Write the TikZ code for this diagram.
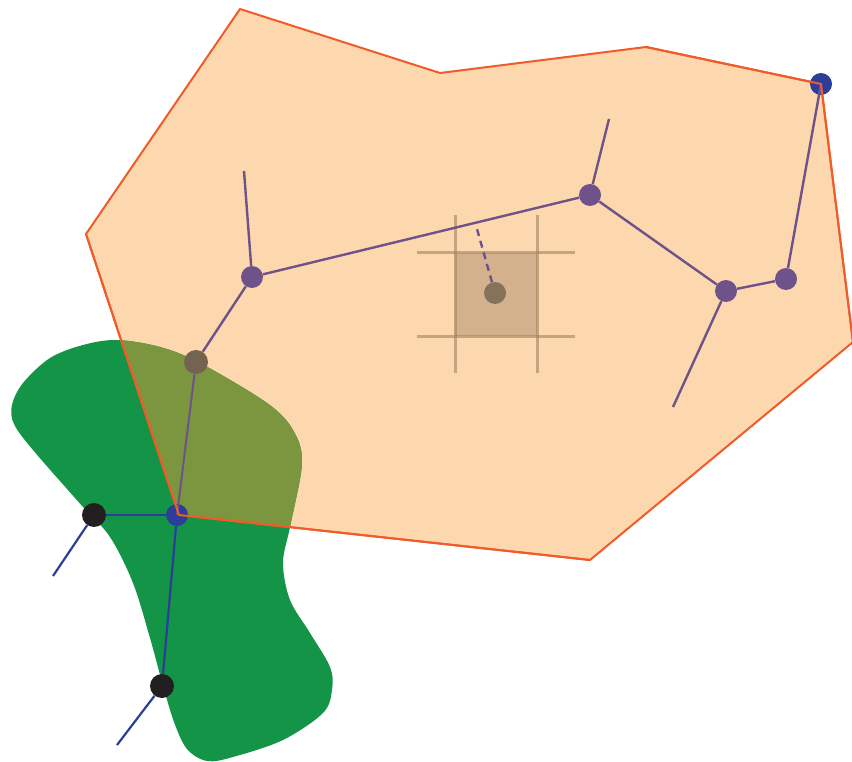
\documentclass[tikz,border=0pt]{standalone}
\usetikzlibrary{calc}
\definecolor{peach}{HTML}{FDD8AF}
\definecolor{polyred}{HTML}{F15A29}
\definecolor{blobgreen}{HTML}{139447}
\definecolor{olive}{HTML}{7B963E}
\definecolor{treepurple}{HTML}{6F5289}
\definecolor{treeblue}{HTML}{2B3E98}
\definecolor{nodeblack}{HTML}{231F20}
\definecolor{nodebrown}{HTML}{736350}
\definecolor{dotbrown}{HTML}{85725A}
\definecolor{gridbrown}{HTML}{A08262}
\begin{document}
\begin{tikzpicture}[x=1pt,y=-1pt,
  pnode/.style={circle,fill=treepurple,inner sep=0pt,minimum size=22pt},
  bnode/.style={circle,fill=treeblue,inner sep=0pt,minimum size=22pt},
  knode/.style={circle,fill=nodeblack,inner sep=0pt,minimum size=24pt},
  brnode/.style={circle,fill=nodebrown,inner sep=0pt,minimum size=24pt},
  pedge/.style={draw=treepurple,line width=2.4pt},
  bedge/.style={draw=treeblue,line width=2.2pt},
  gridline/.style={draw=gridbrown,line width=3pt,opacity=0.6}]
\useasboundingbox (0,0) rectangle (852,762);
% polygon and blob
\def\polypath{(240,9) -- (440,73) -- (646,47) -- (821,84) -- (853,342) -- (590,560) -- (179,515) -- (86,234) -- cycle}
\def\blobpath{plot[smooth cycle,tension=0.55] coordinates {(117,340) (160,347) (200,363) (267,403) (293,430) (302,463) (290,527) (283,563) (290,600) (310,633) (330,667) (332,690) (323,713) (283,740) (233,757) (207,761) (187,749) (174,722) (162,682) (150,638) (133,583) (110,537) (83,507) (33,450) (14,424) (12,405) (23,383) (50,358) (83,345)}}
\fill[peach] \polypath;
\fill[blobgreen] \blobpath;
\begin{scope}
  \clip \polypath;
  \fill[olive] \blobpath;
\end{scope}
\draw[polyred,line width=2pt,line join=miter] \polypath;
% grid square
\fill[gridbrown,opacity=0.45] (455,253) rectangle (537,336);
\coordinate (v1t) at (455,215); \coordinate (v1b) at (455,373);
\coordinate (v2t) at (537,215); \coordinate (v2b) at (537,373);
\coordinate (h1l) at (417,253); \coordinate (h1r) at (575,253);
\coordinate (h2l) at (417,336); \coordinate (h2r) at (575,336);
\draw[gridline] (v1t) -- (v1b);
\draw[gridline] (v2t) -- (v2b);
\draw[gridline] (h1l) -- (h1r);
\draw[gridline] (h2l) -- (h2r);
% nodes
\node[pnode] (A) at (252,277) {};
\node[pnode] (B) at (590,195) {};
\node[pnode] (C) at (726,291) {};
\node[pnode] (D) at (786,279) {};
\node[bnode] (E) at (821,84) {};
\node[brnode] (F) at (196,362) {};
\node[bnode] (G) at (177,515) {};
\node[knode] (H) at (94,515) {};
\node[knode] (I) at (162,686) {};
\node[circle,fill=dotbrown,inner sep=0pt,minimum size=22pt] (S) at (495,293) {};
\coordinate (Aup) at (244,171);
\coordinate (Bup) at (609,119);
\coordinate (Cdn) at (673,407);
\coordinate (Hdn) at (53,576);
\coordinate (Idn) at (117,745);
\coordinate (Sd) at (477,229);
% edges
\draw[pedge] (A) -- (Aup);
\draw[pedge] (B) -- (Bup);
\draw[pedge] (C) -- (Cdn);
\draw[pedge] (A) -- (B);
\draw[pedge] (B) -- (C);
\draw[pedge] (C) -- (D);
\draw[pedge] (D) -- (E.center);
\draw[pedge] (A) -- (F);
\draw[pedge,line width=2pt] (F) -- (G.center);
\draw[bedge] (G) -- (H);
\draw[bedge] (G) -- (I);
\draw[bedge] (H) -- (Hdn);
\draw[bedge] (I) -- (Idn);
\draw[pedge,dash pattern=on 7pt off 5pt] (S) -- (Sd);
% redraw polygon corners over the blue nodes
\draw[polyred,line width=2pt] (590,560) -- (179,515) -- (86,234);
\draw[polyred,line width=2pt] (646,47) -- (821,84) -- (853,342);
\end{tikzpicture}
\end{document}
